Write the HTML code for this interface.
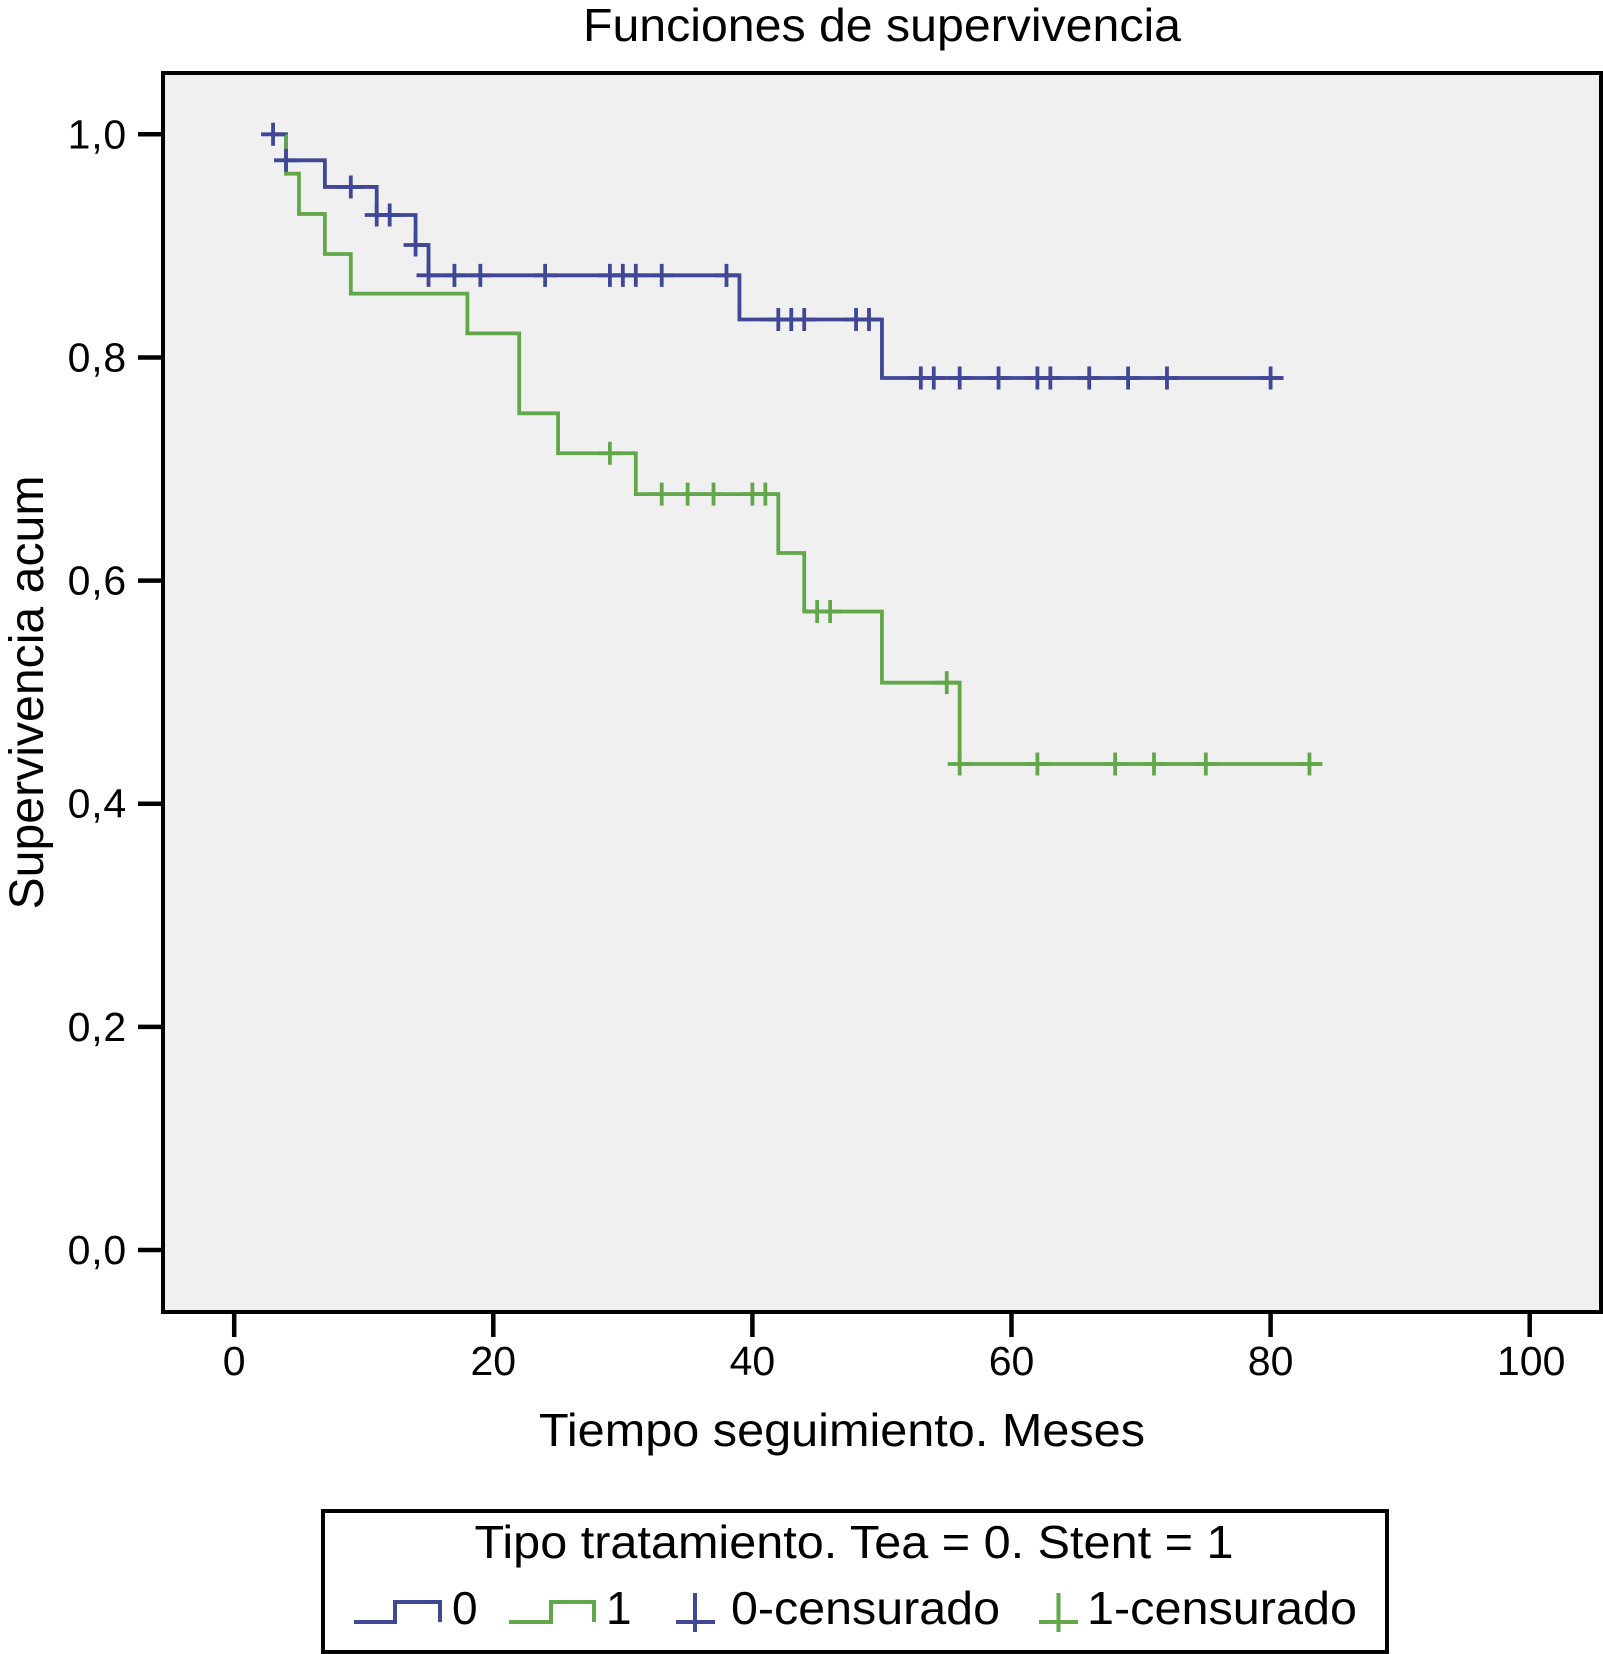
<!DOCTYPE html>
<html lang="es">
<head>
<meta charset="utf-8">
<title>Funciones de supervivencia</title>
<style>
html,body{margin:0;padding:0;background:#fff;}
svg{display:block;}
text{font-family:"Liberation Sans",Arial,sans-serif;fill:#000;}
</style>
</head>
<body>
<svg id="chart" xmlns="http://www.w3.org/2000/svg" width="1603" height="1654" viewBox="0 0 1603 1654">
  <rect x="0" y="0" width="1603" height="1654" fill="#ffffff"/>
  <text x="882" y="41" font-size="46" text-anchor="middle" textLength="598" lengthAdjust="spacingAndGlyphs">Funciones de supervivencia</text>
  <rect x="163" y="73" width="1438" height="1239" fill="#f0f0f0" stroke="#000" stroke-width="4"/>
  <g id="axes"></g>
  <g id="series"></g>
  <text transform="translate(43 692.5) rotate(-90)" font-size="48" text-anchor="middle" textLength="434" lengthAdjust="spacingAndGlyphs">Supervivencia acum</text>
  <text x="842" y="1446" font-size="46" text-anchor="middle" textLength="606" lengthAdjust="spacingAndGlyphs">Tiempo seguimiento. Meses</text>
  <g>
    <rect x="323" y="1511" width="1064" height="141" fill="#fff" stroke="#000" stroke-width="4"/>
    <text x="854" y="1558" font-size="46" text-anchor="middle" textLength="759" lengthAdjust="spacingAndGlyphs">Tipo tratamiento. Tea = 0. Stent = 1</text>
    <path d="M354 1622H395V1602H440V1622" fill="none" stroke="#3f4796" stroke-width="4"/>
    <text x="452" y="1624" font-size="46">0</text>
    <path d="M509 1622H551V1602H594V1622" fill="none" stroke="#62a84a" stroke-width="4"/>
    <text x="606" y="1624" font-size="46">1</text>
    <path d="M676 1622H715M695 1593V1632" fill="none" stroke="#3f4796" stroke-width="4"/>
    <text x="731" y="1624" font-size="46" textLength="269" lengthAdjust="spacingAndGlyphs">0-censurado</text>
    <path d="M1039 1622H1078M1058.5 1593V1632" fill="none" stroke="#62a84a" stroke-width="4"/>
    <text x="1087" y="1624" font-size="46" textLength="270" lengthAdjust="spacingAndGlyphs">1-censurado</text>
  </g>
</svg>
<script>
const xTickValues = [0, 20, 40, 60, 80, 100];
const xTickLabels = ["0", "20", "40", "60", "80", "100"];
const yTickValues = [0, 0.2, 0.4, 0.6, 0.8, 1];
const yTickLabels = ["0,0", "0,2", "0,4", "0,6", "0,8", "1,0"];

const group0Times = [3, 4, 7, 11, 14, 15, 39, 50, 81];
const group0Survival = [1, 0.9767, 0.9528, 0.9277, 0.9008, 0.8736, 0.834, 0.7816, 0.7816];
const group0Censored = [3, 4, 9, 11, 12, 14, 15, 17, 19, 24, 29, 30, 31, 33, 38, 42, 43, 44, 48, 49, 53, 54, 56, 59, 62, 63, 66, 69, 72, 80];

const group1Times = [4, 4, 5, 7, 9, 18, 22, 25, 31, 42, 44, 50, 56, 84];
const group1Survival = [1, 0.9647, 0.9286, 0.8927, 0.8572, 0.8216, 0.7499, 0.7141, 0.6775, 0.6247, 0.5723, 0.5085, 0.4356, 0.4356];
const group1Censored = [29, 33, 35, 37, 40, 41, 45, 46, 55, 56, 62, 68, 71, 75, 83];

const NS = "http://www.w3.org/2000/svg";
const BLUE = "#3f4796";
const GREEN = "#62a84a";
const LINE_WIDTH = 3.8;

function xScale(t) { return 234.2 + t * 12.955; }
function yScale(s) { return 1250 - s * 1115.7; }

function levelAt(times, survival, t) {
  let level = survival[0];
  for (let i = 0; i < times.length; i++) {
    if (times[i] <= t) { level = survival[i]; }
  }
  return level;
}

const axes = document.getElementById("axes");
const series = document.getElementById("series");

xTickValues.forEach(function (v, i) {
  const tick = document.createElementNS(NS, "line");
  
  
  tick.setAttribute("x1", xScale(v));
  tick.setAttribute("x2", xScale(v));
  tick.setAttribute("y1", 1312);
  tick.setAttribute("y2", 1337);
  tick.setAttribute("stroke", "#000");
  tick.setAttribute("stroke-width", 4.5);
  axes.appendChild(tick);
  const label = document.createElementNS(NS, "text");
  
  
  label.setAttribute("x", xScale(v) + (v === 100 ? 1.5 : 0));
  label.setAttribute("y", 1375);
  label.setAttribute("font-size", 41);
  label.setAttribute("text-anchor", "middle");
  label.textContent = xTickLabels[i];
  axes.appendChild(label);
});

yTickValues.forEach(function (v, i) {
  const tick = document.createElementNS(NS, "line");
  
  
  tick.setAttribute("x1", 138);
  tick.setAttribute("x2", 163);
  tick.setAttribute("y1", yScale(v));
  tick.setAttribute("y2", yScale(v));
  tick.setAttribute("stroke", "#000");
  tick.setAttribute("stroke-width", 4.5);
  axes.appendChild(tick);
  const label = document.createElementNS(NS, "text");
  
  
  label.setAttribute("x", 127);
  label.setAttribute("y", yScale(v) + 14);
  label.setAttribute("font-size", 41);
  label.setAttribute("letter-spacing", "0.8");
  label.setAttribute("text-anchor", "end");
  label.textContent = yTickLabels[i];
  axes.appendChild(label);
});

function drawCurve(times, survival, color, key) {
  let d = "M" + xScale(times[0]) + " " + yScale(survival[0]);
  for (let i = 1; i < times.length; i++) {
    d += "H" + xScale(times[i]) + "V" + yScale(survival[i]);
  }
  const curve = document.createElementNS(NS, "path");
  
  
  curve.setAttribute("d", d);
  curve.setAttribute("fill", "none");
  curve.setAttribute("stroke", color);
  curve.setAttribute("stroke-width", LINE_WIDTH);
  curve.setAttribute("stroke-linejoin", "miter");
  series.appendChild(curve);
}

function drawCensored(times, survival, censored, color, key) {
  censored.forEach(function (t) {
    const cx = xScale(t);
    const cy = yScale(levelAt(times, survival, t));
    const mark = document.createElementNS(NS, "path");
    
    
    mark.setAttribute("d", "M" + (cx - 12) + " " + cy + "H" + (cx + 12) + "M" + cx + " " + (cy - 11.5) + "V" + (cy + 11.5));
    mark.setAttribute("fill", "none");
    mark.setAttribute("stroke", color);
    mark.setAttribute("stroke-width", LINE_WIDTH);
    series.appendChild(mark);
  });
}

drawCurve(group0Times, group0Survival, BLUE, "group-0");
drawCurve(group1Times, group1Survival, GREEN, "group-1");
drawCensored(group1Times, group1Survival, group1Censored, GREEN, "group-1");
drawCensored(group0Times, group0Survival, group0Censored, BLUE, "group-0");
</script>
</body>
</html>
